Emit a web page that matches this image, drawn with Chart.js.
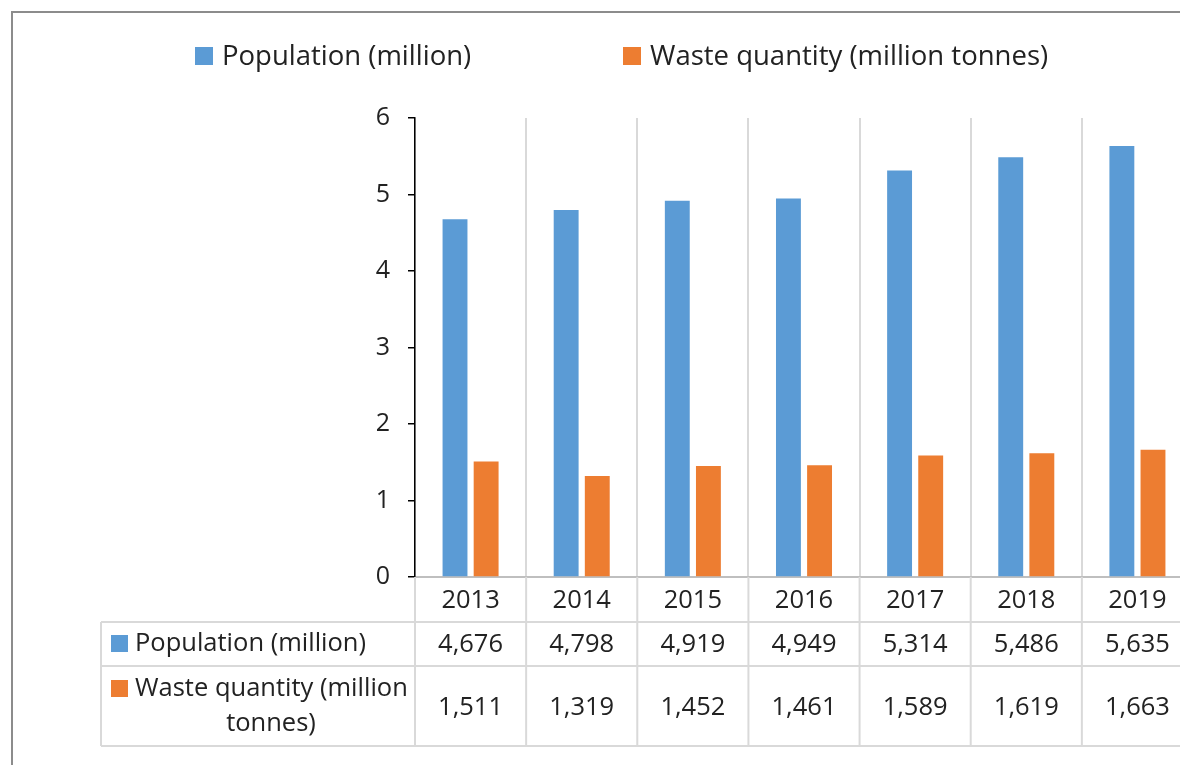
<!DOCTYPE html>
<html>
<head>
<meta charset="utf-8">
<script src="https://cdn.jsdelivr.net/npm/chart.js@4.4.0/dist/chart.umd.min.js"></script>
<style>
    html, body { margin: 0; padding: 0; background: #fff; overflow: hidden; }
    #wrap { position: relative; width: 1180px; height: 765px; overflow: hidden; }
    #frame { position: absolute; left: 11px; top: 11px; width: 1300px; height: 900px; border-top: 2px solid #8c8c8c; border-left: 2px solid #8c8c8c; }
    #chart { position: absolute; left: 0; top: 0; }
</style>
</head>
<body>
<div id="wrap">
    <div id="frame"></div>
    <canvas id="chart" width="1195" height="765"></canvas>
</div>
<script>
// data
const years = ['2013', '2014', '2015', '2016', '2017', '2018', '2019'];
const population = [4.676, 4.798, 4.919, 4.949, 5.314, 5.486, 5.635];
const waste = [1.511, 1.319, 1.452, 1.461, 1.589, 1.619, 1.663];
const seriesNames = ['Population (million)', 'Waste quantity (million tonnes)'];
const seriesColors = ['#5B9BD5', '#ED7D31'];
const yTicks = [0, 1, 2, 3, 4, 5, 6];

const FONT = '"Open Sans", "Noto Sans", sans-serif';
const TEXT = '#222222';
const LINE = '#d9d9d9';

const fmt = v => v.toFixed(3).replace('.', ',');

// legend on top + data table below the plot
const tablePlugin = {
    id: 'dataTable',
    afterDraw(chart) {
        const ctx = chart.ctx;
        const x = chart.scales.x;
        const area = chart.chartArea;
        const rows = [622, 666, 746];
        const left = 101;

        ctx.save();
        // legend
        ctx.font = '27.5px ' + FONT;
        ctx.textBaseline = 'middle';
        ctx.textAlign = 'left';
        const legendX = [195, 623];
        seriesNames.forEach((name, i) => {
            ctx.fillStyle = seriesColors[i];
            ctx.fillRect(legendX[i], 47, 18, 18);
            ctx.fillStyle = TEXT;
            ctx.fillText(name, legendX[i] + 27, 57);
        });

        // grid of the table
        ctx.strokeStyle = LINE;
        ctx.lineWidth = 2;
        ctx.beginPath();
        rows.forEach(y => { ctx.moveTo(left, y); ctx.lineTo(area.right + 2, y); });
        ctx.moveTo(left, rows[0]); ctx.lineTo(left, rows[2]);
        ctx.moveTo(area.left, area.bottom); ctx.lineTo(area.left, rows[2]);
        for (let i = 1; i <= years.length; i++) {
            const bx = i < years.length
                ? (x.getPixelForValue(i - 1) + x.getPixelForValue(i)) / 2
                : area.right;
            ctx.moveTo(bx, area.bottom); ctx.lineTo(bx, rows[2]);
        }
        ctx.stroke();

        // cells
        ctx.fillStyle = TEXT;
        ctx.font = '25.5px ' + FONT;
        ctx.textAlign = 'center';
        years.forEach((yr, i) => {
            const cx = x.getPixelForValue(i);
            ctx.fillText(yr, cx, 601);
            ctx.fillText(fmt(population[i]), cx, 645);
            ctx.fillText(fmt(waste[i]), cx, 708);
        });

        // row headers
        ctx.fillStyle = seriesColors[0];
        ctx.fillRect(111, 635, 17, 17);
        ctx.fillStyle = seriesColors[1];
        ctx.fillRect(111, 680, 17, 17);
        ctx.fillStyle = TEXT;
        ctx.textAlign = 'left';
        ctx.fillText(seriesNames[0], 135, 644);
        ctx.fillText('Waste quantity (million', 135, 689);
        ctx.textAlign = 'center';
        ctx.fillText('tonnes)', 271, 724);
        ctx.restore();
    }
};

new Chart(document.getElementById('chart'), {
    type: 'bar',
    data: {
        labels: years,
        datasets: [
            { label: seriesNames[0], data: population, backgroundColor: seriesColors[0] },
            { label: seriesNames[1], data: waste, backgroundColor: seriesColors[1] }
        ]
    },
    options: {
        responsive: false,
        animation: false,
        events: [],
        categoryPercentage: 0.56,
        barPercentage: 0.8,
        layout: { padding: { left: 375, top: 118, right: 2, bottom: 188 } },
        plugins: { legend: { display: false }, tooltip: { enabled: false } },
        scales: {
            x: {
                grid: { offset: true, color: LINE, lineWidth: 2, drawTicks: false },
                border: { color: '#bfbfbf', width: 2 },
                ticks: { display: false },
                afterFit(scale) { scale.height = 0; }
            },
            y: {
                min: 0,
                max: 6,
                afterBuildTicks(scale) { scale.ticks = yTicks.map(v => ({ value: v })); },
                grid: { drawOnChartArea: false, drawTicks: true, tickLength: 7, color: '#000', lineWidth: 1.5 },
                border: { color: '#000', width: 1.5 },
                ticks: { padding: 18, color: TEXT, font: { family: FONT, size: 25 } },
                afterFit(scale) { scale.width = 40; }
            }
        }
    },
    plugins: [tablePlugin]
});
</script>
</body>
</html>
